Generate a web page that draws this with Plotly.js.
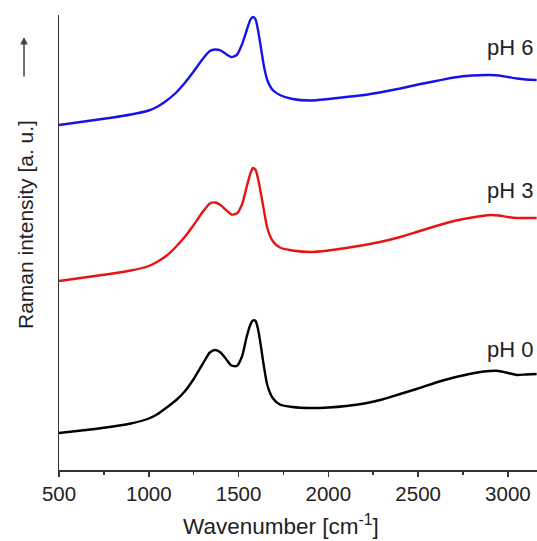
<!DOCTYPE html>
<html>
<head>
<meta charset="utf-8">
<script src="https://cdn.plot.ly/plotly-3.0.1.min.js"></script>
<style>html,body{margin:0;padding:0;background:#fff;}#chart{width:537px;height:541px;}</style>
</head>
<body>
<div id="chart"></div>
<script>
// Wavenumber grid [cm^-1]
var wavenumber = [500, 600, 700, 800, 900, 1000, 1050, 1100, 1150, 1200,
  1250, 1300, 1340, 1370, 1400, 1430, 1460, 1490, 1520, 1545,
  1565, 1580, 1595, 1610, 1625, 1640, 1660, 1690, 1730, 1800,
  1900, 2000, 2100, 2200, 2300, 2400, 2500, 2600, 2700, 2800,
  2900, 2950, 3000, 3050, 3100, 3160];
// Raman intensity (arbitrary units, stacked with offsets)
var ph6 = [345, 347.5, 350, 352.5, 355.5, 359.5, 363.5, 369.5, 377, 387,
  398.5, 411, 419, 420.5, 419.5, 416, 413, 415, 426, 439.5,
  450, 453, 450.5, 438, 422, 405, 390, 380, 375, 371,
  369.5, 371, 373, 375, 378, 381.5, 385.5, 389, 392.5, 394.5,
  395, 394.5, 393, 391.5, 390.5, 390];
var ph3 = [189, 191.5, 194, 196.5, 199.5, 204, 208.5, 214.5, 223, 233,
  245, 258, 266.5, 267.5, 265, 260, 255.5, 256.5, 266, 283,
  296, 302, 300, 290, 276, 261, 242, 229, 222.5, 219.5,
  218, 219.5, 222, 225, 228.5, 233, 238.5, 244, 249, 252.5,
  255, 254.5, 253, 252, 252, 252];
var ph0 = [37, 39, 41, 43.5, 46.5, 51.5, 56, 62.5, 69.5, 78.5,
  91, 106, 117.5, 120, 117.5, 111, 104.5, 104, 114, 133,
  145, 149.5, 149, 139.5, 123, 105, 85, 72, 65.5, 63,
  62, 62.5, 64, 66.5, 70.5, 76, 81.5, 87.5, 92.5, 96.5,
  99, 99, 97, 95, 95.5, 96];
var seriesNames = ['pH 6', 'pH 3', 'pH 0'];
var seriesValues = [ph6, ph3, ph0];
var seriesColors = ['#1414e6', '#e61414', '#000000'];
var labelY = [423, 280, 121];

var font = 'Liberation Sans, Arial, sans-serif';
var traces = seriesValues.map(function (v, i) {
  return {
    x: wavenumber, y: v, type: 'scatter', mode: 'lines', name: seriesNames[i],
    line: {color: seriesColors[i], width: 2.4, shape: 'spline', smoothing: 0.6},
    hoverinfo: 'skip'
  };
});

var annotations = seriesNames.map(function (n, i) {
  return {x: 3150, y: labelY[i], xref: 'x', yref: 'y', text: n, showarrow: false,
    xanchor: 'right', yanchor: 'middle', font: {family: font, size: 22, color: '#222'}};
});
annotations.push({xref: 'paper', yref: 'paper', x: 0.4634, y: -0.121, text: 'Wavenumber [cm<sup>-1</sup>]',
  showarrow: false, xanchor: 'center', yanchor: 'middle', font: {family: font, size: 22.5, color: '#222'}});
annotations.push({xref: 'paper', yref: 'paper', x: -0.069, y: 0.5385, text: 'Raman intensity [a. u.]',
  textangle: -90, showarrow: false, xanchor: 'center', yanchor: 'middle', font: {family: font, size: 21, color: '#222'}});
annotations.push({xref: 'paper', yref: 'paper', x: -0.0732, y: 0.9516, text: '', showarrow: true,
  ax: 0, ay: 41, arrowhead: 2, arrowsize: 1, arrowwidth: 1.5, arrowcolor: '#444'});

var layout = {
  width: 537, height: 541,
  margin: {l: 59, r: 0, t: 15, b: 71},
  paper_bgcolor: '#fff', plot_bgcolor: '#fff',
  showlegend: false,
  xaxis: {
    range: [500, 3162], showgrid: false, zeroline: false,
    showline: true, linecolor: '#333', linewidth: 1.5,
    ticks: 'outside', ticklen: 5, tickwidth: 1.5, tickcolor: '#333',
    tick0: 500, dtick: 500,
    minor: {ticks: 'outside', ticklen: 3, tickwidth: 1.5, tickcolor: '#333', dtick: 250, tick0: 500},
    tickfont: {family: font, size: 20.5, color: '#222'}
  },
  yaxis: {
    range: [0, 455], showgrid: false, zeroline: false,
    showline: true, linecolor: '#333', linewidth: 1.5,
    ticks: '', showticklabels: false
  },
  annotations: annotations
};
Plotly.newPlot('chart', traces, layout, {staticPlot: true, displayModeBar: false});
</script>
</body>
</html>
